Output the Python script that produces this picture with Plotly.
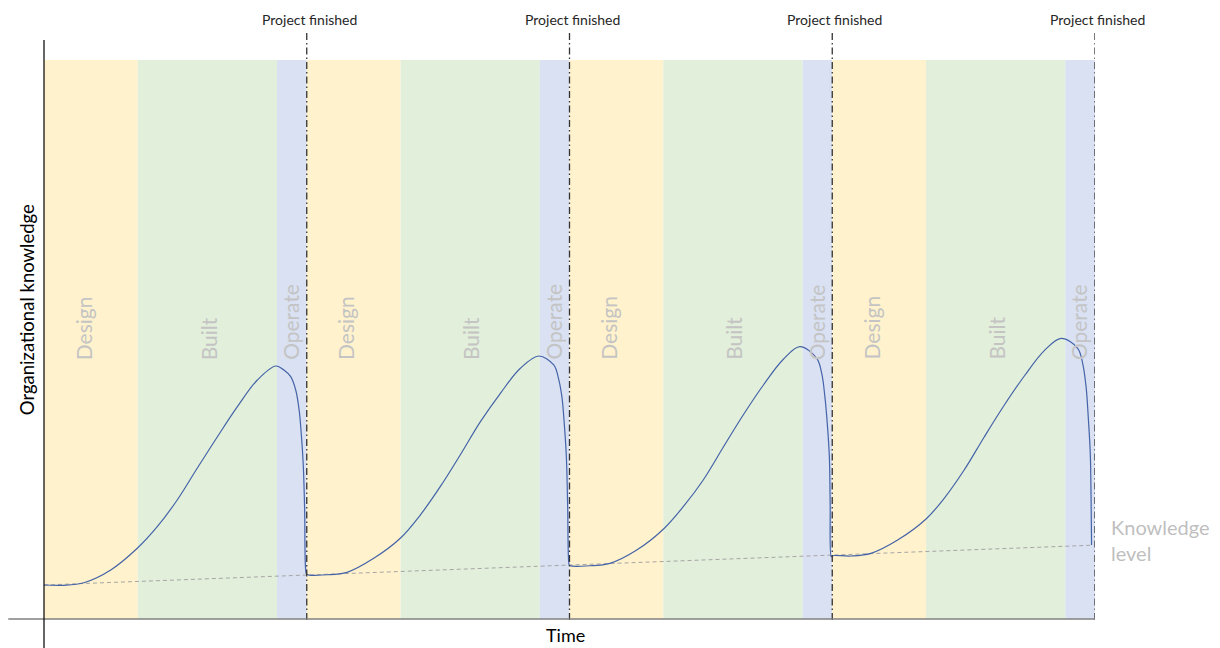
import plotly.graph_objects as go

# ---- data ----
cycle_starts = [0, 10, 20, 30]
cycle_length = 10
design_end = 3.57      # time offset within a cycle where Design ends
built_end = 8.87       # time offset within a cycle where Built ends
phase_names = ["Design", "Built", "Operate"]
phase_label_offsets = [1.5, 6.24, 9.40]
phase_label_level = 46.0
milestone_label = "Project finished"

curve_time = [
    0.0, 0.76, 1.52, 2.54, 3.55, 4.31, 5.07, 5.83, 6.60, 7.36, 8.12, 8.82, 9.13, 9.39, 9.58, 9.71, 9.79, 9.87, 9.92, 9.96,
    10.0, 10.77, 11.53, 12.55, 13.56, 14.32, 15.08, 15.84, 16.61, 17.37, 18.13, 18.83, 19.40, 19.58, 19.71, 19.80, 19.88, 19.93, 19.97,
    20.0, 20.78, 21.54, 22.56, 23.57, 24.33, 25.09, 25.85, 26.61, 27.38, 28.14, 28.77, 29.41, 29.60, 29.72, 29.81, 29.89, 29.92, 29.96,
    30.0, 30.71, 31.47, 32.49, 33.57, 34.26, 35.02, 35.79, 36.55, 37.31, 38.07, 38.71, 39.34, 39.53, 39.66, 39.75, 39.82, 39.85, 39.87,
]
curve_knowledge = [
    6.08, 6.03, 6.49, 8.77, 12.65, 16.51, 21.29, 26.96, 32.61, 37.98, 42.75, 45.26, 44.54, 43.35, 40.97, 37.39, 33.22, 27.25, 19.50, 8.77,
    8.00, 7.92, 8.35, 10.86, 14.44, 18.60, 23.67, 29.34, 35.30, 40.38, 44.85, 47.05, 45.44, 43.06, 39.77, 35.00, 29.03, 20.09, 10.25,
    9.61, 9.53, 9.96, 12.34, 16.05, 20.09, 24.87, 30.72, 36.49, 41.86, 46.46, 48.71, 46.64, 43.95, 39.77, 35.00, 29.03, 20.70, 11.15,
    11.32, 11.27, 11.75, 14.13, 17.89, 21.59, 26.65, 32.61, 38.28, 43.47, 48.00, 50.21, 48.43, 45.74, 41.56, 35.60, 29.64, 21.88, 13.24,
]
knowledge_level_time = [0.0, 39.9]
knowledge_level_value = [6.08, 13.2]

# ---- figure ----
FONT = "Lato, 'Open Sans', sans-serif"
colors = ["#FFF2CC", "#E2EFDA", "#D9E1F2"]
X_MAX = 40

fig = go.Figure()

shapes = []
annotations = []
for cs in cycle_starts:
    bounds = [cs, cs + design_end, cs + built_end, cs + cycle_length]
    for i in range(3):
        shapes.append(dict(type="rect", xref="x", yref="y", x0=bounds[i], x1=bounds[i + 1],
                           y0=0, y1=100, fillcolor=colors[i], line=dict(width=0), layer="below"))
        annotations.append(dict(x=cs + phase_label_offsets[i], y=phase_label_level, xref="x", yref="y",
                                text=phase_names[i], textangle=-90, showarrow=False,
                                xanchor="center", yanchor="bottom",
                                font=dict(family=FONT, size=21, color="#c4c4c4")))
    end = cs + cycle_length
    shapes.append(dict(type="line", xref="x", yref="paper", x0=end, x1=end, y0=-0.002, y1=1.05,
                       line=dict(color="#333333", width=1.3, dash="7px,3px,1.5px,3px"), layer="above"))
    annotations.append(dict(x=(end + 0.1) / X_MAX, y=1.073, xref="paper", yref="paper", text=milestone_label,
                            showarrow=False, xanchor="center", yanchor="middle",
                            font=dict(family=FONT, size=14, color="#262626")))

# axis lines
shapes.append(dict(type="line", xref="paper", yref="paper", x0=-0.034, x1=1.0, y0=0, y1=0,
                   line=dict(color="#808080", width=1.5), layer="above"))
shapes.append(dict(type="line", xref="paper", yref="paper", x0=0, x1=0, y0=-0.052, y1=1.036,
                   line=dict(color="#000000", width=1.2), layer="above"))

fig.add_trace(go.Scatter(x=knowledge_level_time, y=knowledge_level_value, mode="lines",
                         line=dict(color="#a6a6a6", width=1, dash="4px,3px"), hoverinfo="skip",
                         showlegend=False))
fig.add_trace(go.Scatter(x=curve_time, y=curve_knowledge, mode="lines",
                         line=dict(color="#4563a8", width=1.2, shape="spline", smoothing=1.0),
                         hoverinfo="skip", showlegend=False))

annotations.append(dict(x=1.013, y=(619 - 540) / 559, xref="paper", yref="paper",
                        text="Knowledge<br>level", showarrow=False, xanchor="left", yanchor="middle",
                        align="left", font=dict(family=FONT, size=20, color="#bfbfbf")))
annotations.append(dict(x=(565 - 44) / 1051, y=-0.028, xref="paper", yref="paper", text="Time",
                        showarrow=False, xanchor="center", yanchor="middle",
                        font=dict(family=FONT, size=18, color="#000000")))
annotations.append(dict(x=-0.016, y=(619 - 310) / 559, xref="paper", yref="paper",
                        text="Organizational knowledge", textangle=-90, showarrow=False,
                        xanchor="center", yanchor="middle",
                        font=dict(family=FONT, size=18.5, color="#000000")))

# page body has an 8px margin, so the figure is placed 8px in from the top-left corner
fig.update_layout(
    width=1212, height=640,
    margin=dict(l=36, r=125, t=52, b=29),
    paper_bgcolor="white", plot_bgcolor="white",
    xaxis=dict(range=[0, X_MAX], showgrid=False, zeroline=False, showline=False,
               showticklabels=False, ticks="", fixedrange=True),
    yaxis=dict(range=[0, 100], showgrid=False, zeroline=False, showline=False,
               showticklabels=False, ticks="", fixedrange=True),
    shapes=shapes,
    annotations=annotations,
    showlegend=False,
)

fig.write_html("out.html")
